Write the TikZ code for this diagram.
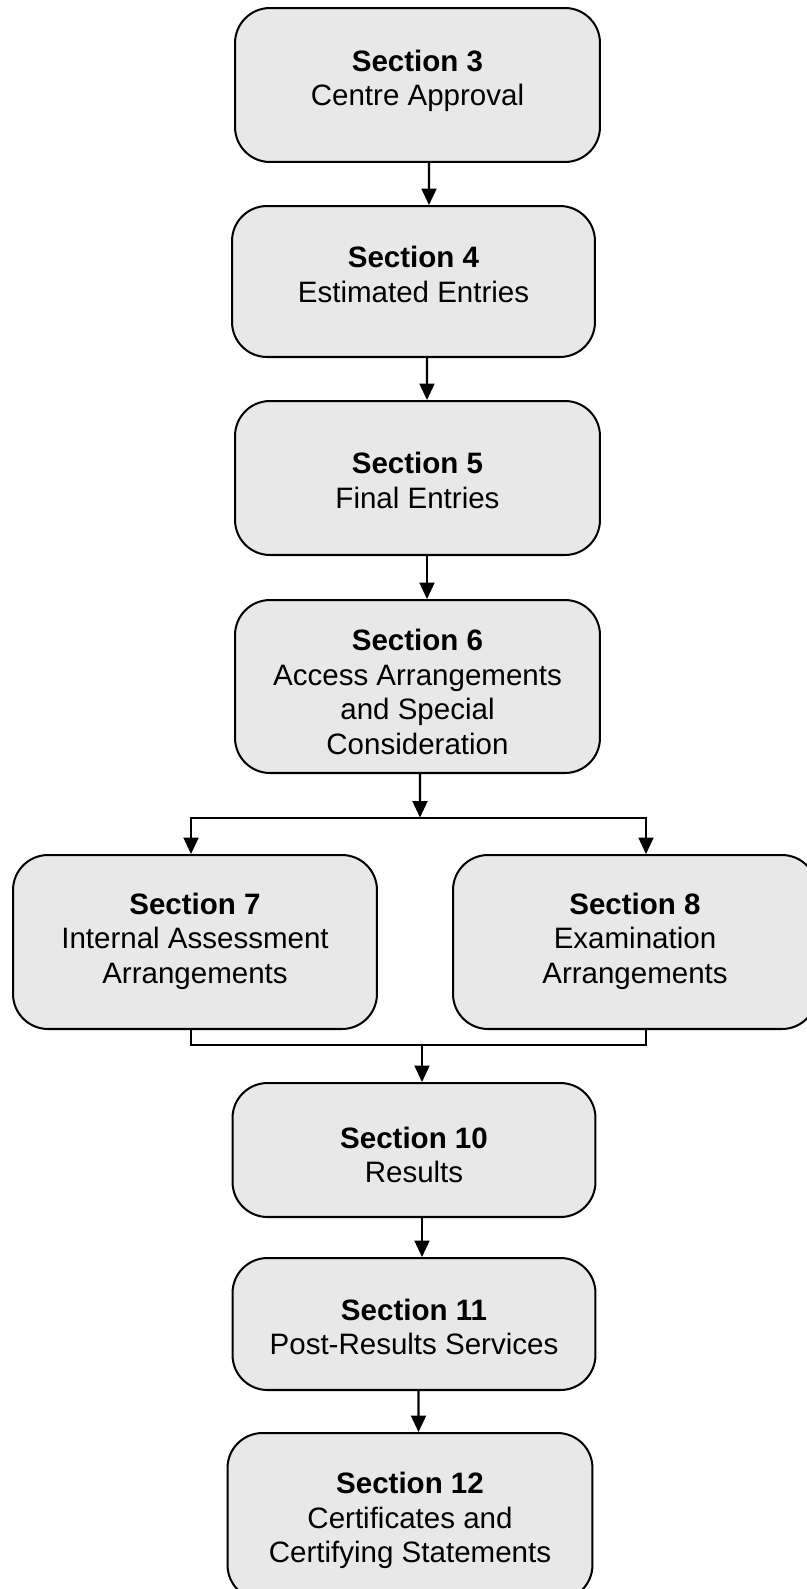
\documentclass[tikz,border=0pt]{standalone}
\usepackage{fontspec}
\setmainfont{Liberation Sans}
\usetikzlibrary{arrows.meta,calc}

\definecolor{boxgray}{RGB}{232,232,232}

% box text: [raise] {number} {title lines}
\newcommand{\sectext}[3][0pt]{%
  \raisebox{#1}[\height][\depth]{\begin{tabular}{@{}c@{}}\textbf{Section #2}\\#3\end{tabular}}}

\tikzset{
  secbox/.style={draw, line width=1.15pt, fill=boxgray, rounded corners=0.7cm,
    inner sep=0pt, minimum width=7.3cm,
    font=\fontsize{16.8}{19.6}\selectfont},
  flow/.style={line width=1.15pt, -{Triangle[length=0.33cm,width=0.3cm]}},
  mergeline/.style={line width=1.15pt},
}

\begin{document}
\begin{tikzpicture}[x=0.02cm,y=-0.02cm]
  % Page frame
  \useasboundingbox (0,0) rectangle (806,1589);

  % Main column
  \node[secbox, minimum height=3.08cm] (b1) at (417.5,85)
    {\sectext[2pt]{3}{Centre Approval}};
  \node[secbox, minimum width=7.26cm, minimum height=3.02cm] (b2) at (413.5,281.5)
    {\sectext[2pt]{4}{Estimated Entries}};
  \node[secbox, minimum height=3.08cm] (b3) at (417.5,478)
    {\sectext[-3.4pt]{5}{Final Entries}};
  \node[secbox, minimum height=3.46cm] (b4) at (417.5,686.5)
    {\sectext[-5.2pt]{6}{Access Arrangements\\and Special\\Consideration}};

  % Two branches
  \node[secbox, minimum width=7.28cm, minimum height=3.48cm] (b7) at (195,942)
    {\sectext{7}{Internal Assessment\\Arrangements}};
  \node[secbox, minimum width=7.28cm, minimum height=3.48cm] (b8) at (635,942)
    {\sectext{8}{Examination\\Arrangements}};

  % Lower column
  \node[secbox, minimum width=7.26cm, minimum height=2.68cm] (b10) at (414,1150)
    {\sectext[-5pt]{10}{Results}};
  \node[secbox, minimum width=7.26cm, minimum height=2.64cm] (b11) at (414,1324)
    {\sectext[-3.6pt]{11}{Post-Results Services}};
  \node[secbox, minimum height=3.34cm] (b12) at (410,1516.5)
    {\sectext[-2.8pt]{12}{Certificates and\\Certifying Statements}};

  % Junction points
  \coordinate (split) at (420,817.5);
  \coordinate (merge) at (422,1045);

  % Arrows
  \draw[flow] ([xshift=0.23cm]b1.south) -- ([xshift=0.31cm]b2.north);
  \draw[flow] ([xshift=0.27cm]b2.south) -- ([xshift=0.19cm]b3.north);
  \draw[flow] ([xshift=0.19cm]b3.south) -- ([xshift=0.19cm]b4.north);
  \draw[flow] ([xshift=0.05cm]b4.south) -- (split);
  \draw[flow] (split) -| ([xshift=-0.08cm]b7.north);
  \draw[flow] (split) -| ([xshift=0.22cm]b8.north);
  \draw[mergeline] ([xshift=-0.08cm]b7.south) |- (merge) -| ([xshift=0.22cm]b8.south);
  \draw[flow] (merge) -- (merge |- b10.north);
  \draw[flow] ([xshift=0.16cm]b10.south) -- ([xshift=0.16cm]b11.north);
  \draw[flow] ([xshift=0.09cm]b11.south) -- ([xshift=0.17cm]b12.north);
\end{tikzpicture}
\end{document}
